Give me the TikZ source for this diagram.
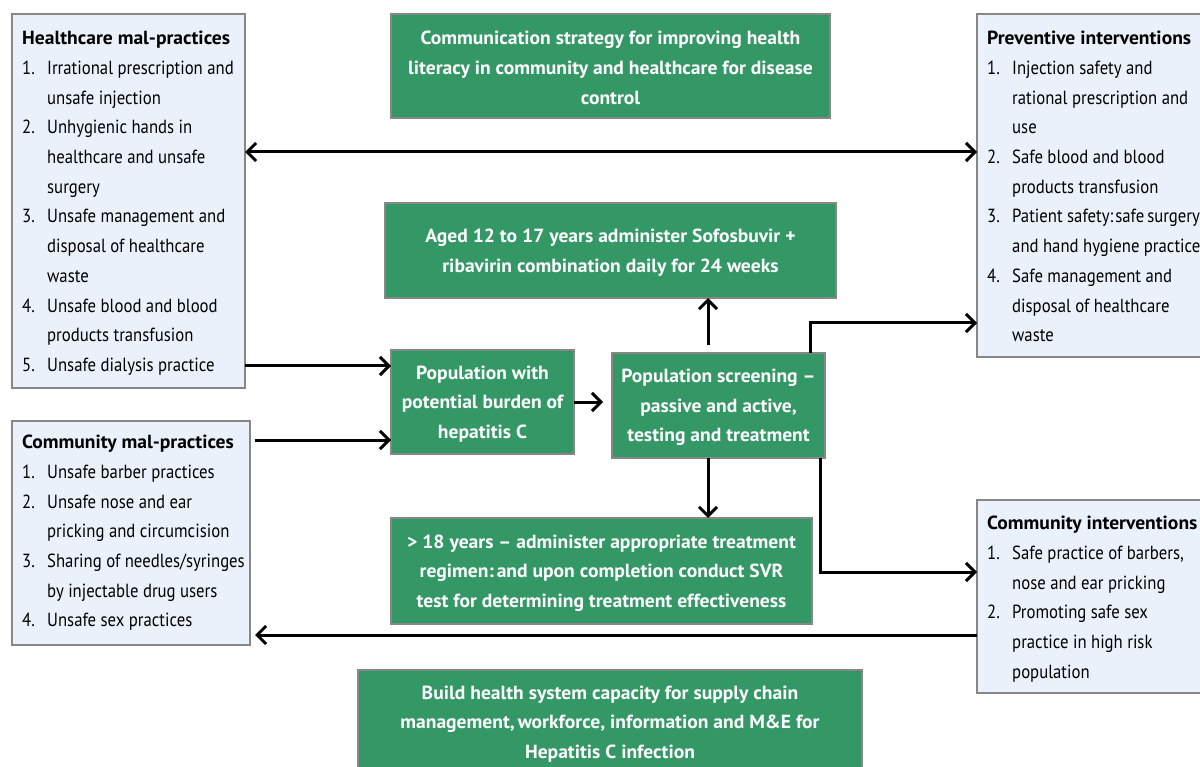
\documentclass[tikz,border=0pt]{standalone}
\usepackage{fontspec}
\setmainfont{PT Sans}[FakeStretch=0.88, BoldFeatures={FakeStretch=1.03}]
\usetikzlibrary{arrows.meta,calc}
\definecolor{boxgreen}{RGB}{52,152,102}
\definecolor{boxblue}{RGB}{234,241,251}
\definecolor{edge}{RGB}{135,135,135}
\newcommand\litem[2]{\makebox[25pt][l]{#1}#2}
\newcommand\lcont[1]{\hspace*{25pt}#1}
\tikzset{
  listbox/.style={draw=edge, line width=1.2pt, fill=boxblue, inner sep=0pt, outer sep=0pt, anchor=north west},
  greenbox/.style={draw=edge, line width=1.2pt, fill=boxgreen, inner sep=0pt, outer sep=0pt, anchor=north west},
  listtext/.style={anchor=north west, align=left, inner sep=0pt, font=\fontsize{19}{29.7}\selectfont},
  greentext/.style={align=center, inner sep=0pt, text=white, font=\fontsize{19}{29.7}\selectfont\bfseries},
  arr/.style={line width=3pt, -{Straight Barb[length=9pt,width=18pt,line width=3pt]}},
  darr/.style={line width=3pt, {Straight Barb[length=9pt,width=18pt,line width=3pt]}-{Straight Barb[length=9pt,width=18pt,line width=3pt]}},
}
\begin{document}
\begin{tikzpicture}[x=1pt,y=-1pt]
\useasboundingbox (0,0) rectangle (1200,767);
\clip (0,0) rectangle (1200,767);
\fill[white] (0,0) rectangle (1200,767);

% left-hand lists of mal-practices
\node[listbox, minimum width=233pt, minimum height=374pt] (hm) at (12,14) {};
\node[listtext] (hmt) at (22,31) {\textbf{Healthcare mal-practices}\\
\litem{1.}{Irrational prescription and}\\
\lcont{unsafe injection}\\
\litem{2.}{Unhygienic hands in}\\
\lcont{healthcare and unsafe}\\
\lcont{surgery}\\
\litem{3.}{Unsafe management and}\\
\lcont{disposal of healthcare}\\
\lcont{waste}\\
\litem{4.}{Unsafe blood and blood}\\
\lcont{products transfusion}\\
\litem{5.}{Unsafe dialysis practice}};

\node[listbox, minimum width=238pt, minimum height=224pt] (cm) at (12,421) {};
\node[listtext] (cmt) at (22,435) {\textbf{Community mal-practices}\\
\litem{1.}{Unsafe barber practices}\\
\litem{2.}{Unsafe nose and ear}\\
\lcont{pricking and circumcision}\\
\litem{3.}{Sharing of needles/syringes}\\
\lcont{by injectable drug users}\\
\litem{4.}{Unsafe sex practices}};

% right-hand lists of interventions
\node[listbox, minimum width=240pt, minimum height=343pt] (pv) at (977,14) {};
\node[listtext] (pvt) at (987,31) {\textbf{Preventive interventions}\\
\litem{1.}{Injection safety and}\\
\lcont{rational prescription and}\\
\lcont{use}\\
\litem{2.}{Safe blood and blood}\\
\lcont{products transfusion}\\
\litem{3.}{Patient safety:\hspace{2pt}safe\hspace{3pt}surgery}\\
\lcont{and hand hygiene practice}\\
\litem{4.}{Safe management and}\\
\lcont{disposal of healthcare}\\
\lcont{waste}};

\node[listbox, minimum width=240pt, minimum height=193pt] (ci) at (977,500) {};
\node[listtext] (cit) at (987,516) {\textbf{Community interventions}\\
\litem{1.}{Safe practice of barbers,}\\
\lcont{nose and ear pricking}\\
\litem{2.}{Promoting safe sex}\\
\lcont{practice in high risk}\\
\lcont{population}};

% central green boxes
\node[greenbox, minimum width=439pt, minimum height=104pt] (cs) at (391,14) {};
\node[greentext] at ([yshift=-2pt]cs.center) {Communication strategy for improving health\\literacy in community and healthcare for disease\\control};

\node[greenbox, minimum width=451pt, minimum height=95pt] (ag) at (385,203) {};
\node[greentext] at ([yshift=-2pt]ag.center) {Aged 12 to 17 years administer Sofosbuvir +\\ribavirin combination daily for 24 weeks};

\node[greenbox, minimum width=183pt, minimum height=104pt] (pop) at (391,350) {};
\node[greentext] at ([yshift=-2pt]pop.center) {Population with\\potential burden of\\hepatitis C};

\node[greenbox, minimum width=213pt, minimum height=105pt] (scr) at (612,353) {};
\node[greentext] at ([yshift=-2pt]scr.center) {Population screening --\\passive and active,\\testing and treatment};

\node[greenbox, minimum width=421pt, minimum height=106pt] (ad) at (391,518) {};
\node[greentext] at ([yshift=-2pt]ad.center) {> 18 years -- administer appropriate treatment\\regimen:\hspace{3pt}and upon completion conduct SVR\\test for determining treatment effectiveness};

\node[greenbox, minimum width=504pt, minimum height=110pt] (bh) at (358,670) {};
\node[greentext] at ($(bh.north)+(0,54)$) {Build health system capacity for supply chain\\management,\hspace{3pt}workforce, information and M\&E for\\Hepatitis C infection};

% connectors
\coordinate (d1) at ([yshift=-138pt]hm.north east);
\draw[darr] (d1) -- (d1 -| pv.west);

\coordinate (h1) at ([yshift=-352pt]hm.north east);
\draw[arr] (h1) -- (h1 -| pop.west);

\coordinate (c1) at ([xshift=5pt,yshift=-19pt]cm.north east);
\draw[arr] (c1) -- (c1 -| pop.west);

\draw[arr, shorten >=9pt] (pop.east) -- (pop.east -| scr.west);

\coordinate (su) at ([xshift=-10.5pt]scr.north);
\draw[arr] ([yshift=8pt]su) -- (su |- ag.south);

\coordinate (sd) at ([xshift=-10.5pt]scr.south);
\draw[arr] (sd) -- (sd |- ad.north);

\coordinate (tr) at ([xshift=-15pt]scr.north east);
\draw[arr] (tr) |- (pv.west |- 0,323);

\coordinate (br) at ([xshift=-5pt]scr.south east);
\draw[arr] (br) |- (ci.west |- 0,572);

\coordinate (ce) at ([yshift=-135pt]ci.north west);
\draw[arr] (ce) -- ([xshift=5pt]ce -| cm.east);
\end{tikzpicture}
\end{document}
